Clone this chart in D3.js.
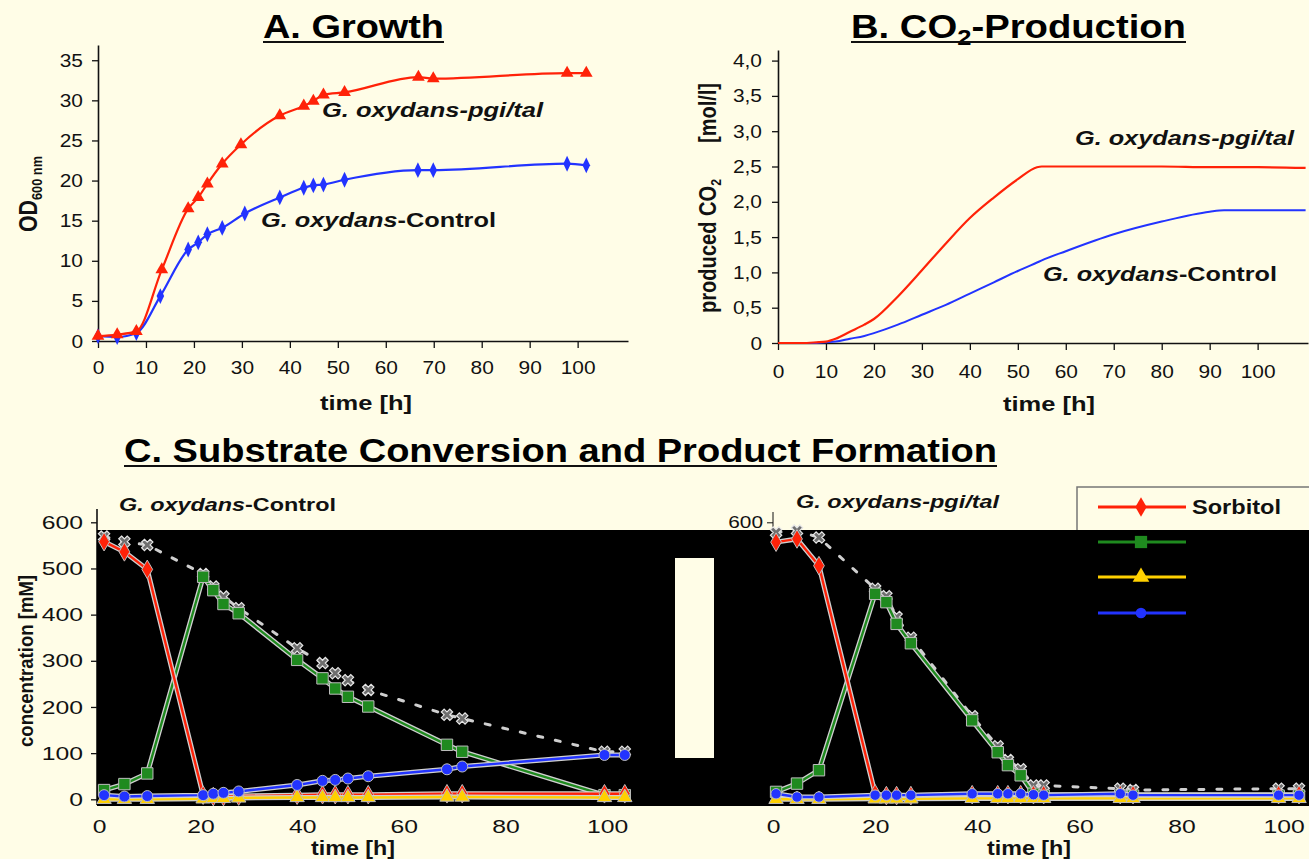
<!DOCTYPE html>
<html>
<head>
<meta charset="utf-8">
<script src="https://cdn.jsdelivr.net/npm/d3@7"></script>
<style>
body{margin:0;background:#fffde7;}
svg{display:block;font-family:"Liberation Sans",Arial,sans-serif;}
</style>
</head>
<body>
<svg id="chart" width="1309" height="859"></svg>
<script>
// A. Growth (OD600 over time)
var growthTimePgi  = [0,4,8,13.3,18.8,20.9,22.8,25.9,29.8,37.9,42.9,44.9,47,51.4,66.8,69.9,97.8,101.8];
var growthPgi      = [0.6,0.8,1.2,8.9,16.5,17.9,19.6,22.1,24.5,28.1,29.3,29.9,30.7,31.0,32.9,32.7,33.4,33.4];
var growthTimeCtrl = [0,4,8,13,18.8,20.9,22.8,25.9,30.6,37.9,42.9,44.9,47,51.4,66.7,69.9,97.8,101.8];
var growthCtrl     = [0.6,0.5,1.0,5.6,11.4,12.3,13.3,14.1,15.9,17.9,19.1,19.4,19.5,20.1,21.3,21.3,22.1,21.9];
var growthTicksX = [0,10,20,30,40,50,60,70,80,90,100];
var growthTicksY = [0,5,10,15,20,25,30,35];

// B. CO2 production
var co2Time = [0,5,8,10,12,15,18,20,25,30,35,40,45,50,54,55,60,70,80,90,93,100,110];
var co2Pgi  = [0,0,0.01,0.02,0.06,0.16,0.26,0.34,0.66,1.03,1.41,1.77,2.06,2.32,2.49,2.5,2.5,2.5,2.5,2.49,2.49,2.49,2.48];
var co2Ctrl = [0,0,0,0.01,0.02,0.06,0.1,0.14,0.26,0.4,0.54,0.7,0.86,1.02,1.14,1.17,1.3,1.54,1.72,1.86,1.88,1.88,1.88];
var co2TicksY = [0,0.5,1,1.5,2,2.5,3,3.5,4];

// C. substrate conversion, control strain
var ctrlTime     = [1,5,9.5,20.5,22.5,24.5,27.5,39,44,46.5,49,53,68.5,71.5,99.5,103.5];
var ctrlSorbitol = [558,536,498,9,6,6,7,9,10,10,10,10,12,12,12,12];
var ctrlGreen    = [20,33,56,482,453,423,403,302,262,240,222,201,118,103,9,9];
var ctrlYellow   = [0,0,0,1,2,2,3,4,4,4,4,4,5,5,4,4];
var ctrlBlue     = [9,6,7,9,12,14,17,31,40,42,45,50,65,71,96,96];
var ctrlGray     = [569,558,551,488,461,439,414,327,295,273,258,237,183,175,103,103];

// C. substrate conversion, pgi/tal strain
var pgiTime     = [0.6,4.7,9,20,22.2,24.2,27,39,44,46,48.5,51,53,68,70.5,99,103];
var pgiSorbitol = [557,564,506,12,8,8,8,10,10,10,10,10,10,10,10,10,10];
var pgiGreen    = [16,34,63,445,427,380,338,171,102,74,52,12,8,8,8,8,8];
var pgiYellow   = [0,0,0,1,1,1,1,2,2,2,2,2,2,2,2,2,2];
var pgiBlue     = [12,5,5,9,9,9,9,12,12,12,12,10,9,12,9,9,9];
var pgiGray     = [578,582,567,456,440,395,350,180,115,85,65,30,30,23,20,23,23];

var concTicksY = [0,100,200,300,400,500,600];
var concTicksX = [0,20,40,60,80,100];
var legendNames = ["Sorbitol","","",""];

var RED = "#ff2208", BLUE = "#2233ff", GREEN = "#1f8a1f", YELLOW = "#ffd000";
var BG = "#fffde7";

var svg = d3.select("#chart");
svg.append("rect").attr("width",1309).attr("height",859).attr("fill",BG);

function stretch(sel, k){
  sel.each(function(){
    var l = this.getComputedTextLength();
    d3.select(this).attr("textLength", l*k).attr("lengthAdjust","spacingAndGlyphs");
  });
}
function fit(sel, w){ sel.attr("textLength", w).attr("lengthAdjust","spacingAndGlyphs"); }
function zip(xs, ys){ return xs.map(function(x,i){ return [x, ys[i]]; }); }

function styleAxis(g, size){
  g.selectAll("text").attr("font-size",size).attr("fill","#111").attr("font-family","Liberation Sans, Arial, sans-serif");
  g.selectAll("line").attr("stroke","#111").attr("stroke-width",1.3);
  g.selectAll(".domain").attr("stroke","#111").attr("stroke-width",1.6);
}

// ---------- titles ----------
var tA = svg.append("text").attr("x",353.5).attr("y",38).attr("text-anchor","middle")
  .attr("font-size",33).attr("font-weight","bold").text("A. Growth");
fit(tA,181);
svg.append("line").attr("x1",263).attr("x2",444).attr("y1",42).attr("y2",42).attr("stroke","#111").attr("stroke-width",2);

var tB = svg.append("text").attr("x",1018.5).attr("y",38).attr("text-anchor","middle")
  .attr("font-size",33).attr("font-weight","bold");
tB.append("tspan").text("B. CO");
tB.append("tspan").attr("font-size",22).attr("dy",7).text("2");
tB.append("tspan").attr("dy",-7).text("-Production");
fit(tB,335);
svg.append("line").attr("x1",851).attr("x2",1186).attr("y1",42).attr("y2",42).attr("stroke","#111").attr("stroke-width",2);

var tC = svg.append("text").attr("x",560.5).attr("y",462).attr("text-anchor","middle")
  .attr("font-size",33).attr("font-weight","bold").text("C. Substrate Conversion and Product Formation");
fit(tC,873);
svg.append("line").attr("x1",124).attr("x2",997).attr("y1",466).attr("y2",466).attr("stroke","#111").attr("stroke-width",2);

// ---------- A. Growth ----------
var xA = d3.scaleLinear().domain([0,110.5]).range([98,628]);
var yA = d3.scaleLinear().domain([0,36.9]).range([341,45]);

var gAx = svg.append("g").attr("transform","translate(0,341)")
  .call(d3.axisBottom(xA).tickValues(growthTicksX).tickSize(7).tickPadding(13).tickSizeOuter(0));
styleAxis(gAx,19); stretch(gAx.selectAll("text"),1.1);
var gAy = svg.append("g").attr("transform","translate(98,0)")
  .call(d3.axisLeft(yA).tickValues(growthTicksY).tickSize(6).tickPadding(9).tickSizeOuter(0));
styleAxis(gAy,19); stretch(gAy.selectAll("text"),1.1);

var odLab = svg.append("text").attr("transform","translate(37,194) rotate(-90)").attr("text-anchor","middle")
  .attr("font-weight","bold").attr("font-size",25).attr("fill","#111");
odLab.append("tspan").text("OD");
odLab.append("tspan").attr("font-size",15).attr("dy",5).text("600 nm");
fit(odLab,76);

fit(svg.append("text").attr("x",366).attr("y",410).attr("text-anchor","middle").attr("font-size",21)
  .attr("font-weight","bold").attr("fill","#111").text("time [h]"),92);

var lineA = d3.line().x(function(d){return xA(d[0]);}).y(function(d){return yA(d[1]);}).curve(d3.curveMonotoneX);
var pgiA = zip(growthTimePgi, growthPgi), ctrlA = zip(growthTimeCtrl, growthCtrl);
svg.append("path").datum(ctrlA).attr("d",lineA).attr("fill","none").attr("stroke",BLUE).attr("stroke-width",2.2);
svg.append("path").datum(pgiA).attr("d",lineA).attr("fill","none").attr("stroke",RED).attr("stroke-width",2.2);
svg.selectAll(".mkA1").data(ctrlA).enter().append("path")
  .attr("d",d3.symbol().type(d3.symbolDiamond).size(55))
  .attr("transform",function(d){return "translate("+xA(d[0])+","+yA(d[1])+") scale(0.95,1.15)";})
  .attr("fill",BLUE);
svg.selectAll(".mkA2").data(pgiA).enter().append("path")
  .attr("d",d3.symbol().type(d3.symbolTriangle).size(70))
  .attr("transform",function(d){return "translate("+xA(d[0])+","+yA(d[1])+")";})
  .attr("fill",RED);

function strainLabel(x, y, w, size, suffix, italicSuffix){
  var t = svg.append("text").attr("x",x).attr("y",y).attr("font-size",size).attr("font-weight","bold").attr("fill","#111");
  t.append("tspan").attr("font-style","italic").text("G. oxydans");
  t.append("tspan").attr("font-style", italicSuffix ? "italic" : "normal").text(suffix);
  fit(t,w);
}
strainLabel(322,117,221,20,"-pgi/tal",true);
strainLabel(261,227,235,20,"-Control",false);

// ---------- B. CO2 production ----------
var xB = d3.scaleLinear().domain([0,110.5]).range([778,1308]);
var yB = d3.scaleLinear().domain([0,4.15]).range([343,50]);
var commaFmt = function(d){ return d===0 ? "0" : d3.format(".1f")(d).replace(".",","); };

var gBx = svg.append("g").attr("transform","translate(0,343)")
  .call(d3.axisBottom(xB).tickValues(growthTicksX).tickSize(7).tickPadding(15).tickSizeOuter(0));
styleAxis(gBx,19); stretch(gBx.selectAll("text"),1.1);
var gBy = svg.append("g").attr("transform","translate(778,0)")
  .call(d3.axisLeft(yB).tickValues(co2TicksY).tickFormat(commaFmt).tickSize(6).tickPadding(10).tickSizeOuter(0));
styleAxis(gBy,19); stretch(gBy.selectAll("text"),1.1);

var co2Lab = svg.append("text").attr("transform","translate(716,246) rotate(-90)").attr("text-anchor","middle")
  .attr("font-weight","bold").attr("font-size",23).attr("fill","#111");
co2Lab.append("tspan").text("produced CO");
co2Lab.append("tspan").attr("font-size",14).attr("dy",5).text("2");
fit(co2Lab,134);
fit(svg.append("text").attr("transform","translate(716,113) rotate(-90)").attr("text-anchor","middle")
  .attr("font-weight","bold").attr("font-size",23).attr("fill","#111").text("[mol/l]"),60);

fit(svg.append("text").attr("x",1049).attr("y",411).attr("text-anchor","middle").attr("font-size",21)
  .attr("font-weight","bold").attr("fill","#111").text("time [h]"),92);

var lineB = d3.line().x(function(d){return xB(d[0]);}).y(function(d){return yB(d[1]);}).curve(d3.curveMonotoneX);
svg.append("path").datum(zip(co2Time,co2Ctrl)).attr("d",lineB).attr("fill","none").attr("stroke",BLUE).attr("stroke-width",2);
svg.append("path").datum(zip(co2Time,co2Pgi)).attr("d",lineB).attr("fill","none").attr("stroke",RED).attr("stroke-width",2.2);

strainLabel(1075,145,219,20,"-pgi/tal",true);
strainLabel(1043,281,234,20,"-Control",false);

// ---------- C. legend frame (under the black band) ----------
svg.append("rect").attr("x",1077).attr("y",487).attr("width",260).attr("height",80)
  .attr("fill",BG).attr("stroke","#777").attr("stroke-width",1.5);

// C scales
var yC  = d3.scaleLinear().domain([0,600]).range([799.3,522.3]);
var xCL = d3.scaleLinear().domain([0,100]).range([99,607]);
var xCR = d3.scaleLinear().domain([0,100]).range([773,1283.7]);

// left y axis (above black band)
var gCy = svg.append("g").attr("transform","translate(97,0)")
  .call(d3.axisLeft(yC).tickValues(concTicksY).tickSize(6).tickPadding(8).tickSizeOuter(0));
styleAxis(gCy,19); stretch(gCy.selectAll("text"),1.3);
gCy.select(".domain").attr("d","M0,509V805");

var gCyR = svg.append("g").attr("transform","translate(773,0)")
  .call(d3.axisLeft(yC).tickValues([600]).tickSize(6).tickPadding(4).tickSizeOuter(0));
styleAxis(gCyR,16); stretch(gCyR.selectAll("text"),1.3);
gCyR.selectAll(".tick line").attr("stroke-width",1);
gCyR.select(".domain").attr("d","M0,512V805").attr("stroke-width",1);

// black band and the cream gap
svg.append("rect").attr("x",97).attr("y",530).attr("width",1212).attr("height",276).attr("fill","#000");
svg.append("rect").attr("x",675).attr("y",558).attr("width",39).attr("height",200).attr("fill",BG);

// x axes (labels only)
[[xCL,353],[xCR,1029]].forEach(function(p){
  var g = svg.append("g").attr("transform","translate(0,806)")
    .call(d3.axisBottom(p[0]).tickValues(concTicksX).tickSize(0).tickPadding(14));
  styleAxis(g,19); g.select(".domain").remove(); stretch(g.selectAll("text"),1.3);
  fit(svg.append("text").attr("x",p[1]).attr("y",855).attr("text-anchor","middle").attr("font-size",20)
    .attr("font-weight","bold").attr("fill","#111").text("time [h]"),84);
});

fit(svg.append("text").attr("transform","translate(33,661) rotate(-90)").attr("text-anchor","middle")
  .attr("font-weight","bold").attr("font-size",21).attr("fill","#111").text("concentration [mM]"),172);

strainLabel(119,511,217,18,"-Control",false);
strainLabel(796,508,203,18,"-pgi/tal",true);

function drawConc(xs, times, gray, series){
  var line = d3.line().x(function(d){return xs(d[0]);}).y(function(d){return yC(d[1]);});
  var g = svg.append("g");
  var gd = zip(times, gray);
  g.append("path").datum(gd).attr("d",line).attr("fill","none").attr("stroke","#cfcfcf")
    .attr("stroke-width",3).attr("stroke-dasharray","5,13").attr("stroke-linecap","round");
  g.selectAll(".gx").data(gd).enter().append("path")
    .attr("d",d3.symbol().type(d3.symbolCross).size(80))
    .attr("transform",function(d){return "translate("+xs(d[0])+","+yC(d[1])+") rotate(45)";})
    .attr("fill","#6f6f6f").attr("stroke","#e6e6e6").attr("stroke-width",1.2);
  series.forEach(function(s){
    var pts = zip(times, s.values);
    g.append("path").datum(pts).attr("d",line).attr("fill","none").attr("stroke","#d0d0d0").attr("stroke-width",5);
    g.append("path").datum(pts).attr("d",line).attr("fill","none").attr("stroke",s.color).attr("stroke-width",2.4);
    g.selectAll(null).data(pts).enter().append("path")
      .attr("d",d3.symbol().type(s.symbol).size(s.size))
      .attr("transform",function(d){return "translate("+xs(d[0])+","+yC(d[1])+")";})
      .attr("fill",s.color).attr("stroke","#bdbdbd").attr("stroke-width",1);
  });
}

drawConc(xCL, ctrlTime, ctrlGray, [
  {values:ctrlGreen, color:GREEN, symbol:d3.symbolSquare, size:130},
  {values:ctrlSorbitol, color:RED, symbol:d3.symbolDiamond, size:100},
  {values:ctrlYellow, color:YELLOW, symbol:d3.symbolTriangle, size:90},
  {values:ctrlBlue, color:BLUE, symbol:d3.symbolCircle, size:95}
]);
drawConc(xCR, pgiTime, pgiGray, [
  {values:pgiGreen, color:GREEN, symbol:d3.symbolSquare, size:130},
  {values:pgiSorbitol, color:RED, symbol:d3.symbolDiamond, size:100},
  {values:pgiYellow, color:YELLOW, symbol:d3.symbolTriangle, size:90},
  {values:pgiBlue, color:BLUE, symbol:d3.symbolCircle, size:85}
]);

// legend entries
var legendItems = [
  {name:legendNames[0], color:RED, symbol:d3.symbolDiamond, size:110, y:507},
  {name:legendNames[1], color:GREEN, symbol:d3.symbolSquare, size:150, y:542},
  {name:legendNames[2], color:YELLOW, symbol:d3.symbolTriangle, size:120, y:577},
  {name:legendNames[3], color:BLUE, symbol:d3.symbolCircle, size:90, y:613}
];
legendItems.forEach(function(it){
  svg.append("line").attr("x1",1098).attr("x2",1186).attr("y1",it.y).attr("y2",it.y)
    .attr("stroke",it.color).attr("stroke-width",3);
  svg.append("path").attr("d",d3.symbol().type(it.symbol).size(it.size)())
    .attr("transform","translate(1141,"+it.y+")").attr("fill",it.color);
  if(it.name){
    fit(svg.append("text").attr("x",1192).attr("y",it.y+7).attr("font-size",21).attr("font-weight","bold")
      .attr("fill","#111").text(it.name),89);
  }
});
</script>
</body>
</html>
